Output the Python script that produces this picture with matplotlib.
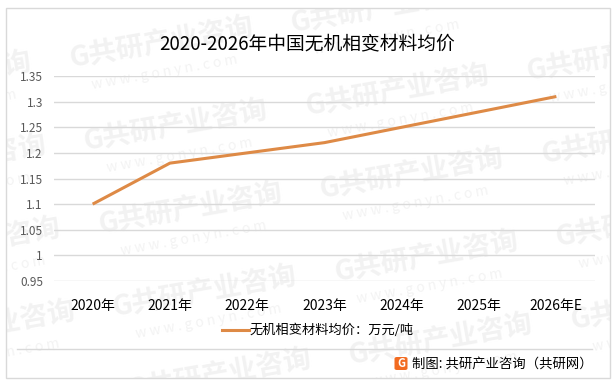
import matplotlib
matplotlib.use("Agg")
import matplotlib.pyplot as plt
from matplotlib.patches import Rectangle, FancyBboxPatch
from matplotlib.lines import Line2D

plt.rcParams['font.family'] = ['Noto Sans CJK SC', 'DejaVu Sans']

years = ['2020年', '2021年', '2022年', '2023年', '2024年', '2025年', '2026年E']
prices = [1.10, 1.18, 1.20, 1.22, 1.25, 1.28, 1.31]
yticks = [0.95, 1.0, 1.05, 1.1, 1.15, 1.2, 1.25, 1.3, 1.35]
ytick_labels = ['0.95', '1', '1.05', '1.1', '1.15', '1.2', '1.25', '1.3', '1.35']

title = '2020-2026年中国无机相变材料均价'
series_name = '无机相变材料均价：万元/吨'
source = '制图: 共研产业咨询（共研网）'
wm_text = 'G共研产业咨询'
wm_url = 'w w w . g o n y n . c o m'

W, H = 615, 383
LINE_COLOR = '#DE8A46'


def px(x, y):
    # pixel coords (from top-left) -> figure fraction
    return x / W, 1 - y / H


def watermarks(fig, clip):
    # tiled faint background watermark, roughly following the reference lattice
    for i in range(-1, 3):
        for j in range(-1, 5):
            cx = 161 + 236 * i + 14.5 * j
            cy = 42 + 48 * i + 83 * j
            t = fig.text(*px(cx, cy), wm_text, ha='center', va='center', rotation=10,
                         fontsize=20, fontweight='bold', color='#F2F2F2', zorder=-2,
                         rotation_mode='anchor')
            t.set_clip_path(clip)
            u = fig.text(*px(cx + 4, cy + 30), wm_url, ha='center', va='center', rotation=10,
                         fontsize=10, color='#F3F3F3', zorder=-2, rotation_mode='anchor')
            u.set_clip_path(clip)


def main():
    fig = plt.figure(figsize=(W / 100, H / 100), dpi=100)

    # outer frame
    frame = Rectangle(px(5.5, 377.5), (610 - 5.5) / W, (377.5 - 7.5) / H,
                      transform=fig.transFigure, fill=False, edgecolor='#D9D9D9', lw=1.0)
    fig.add_artist(frame)
    watermarks(fig, frame)

    # plot area placed in pixel terms
    left, right, top, bottom = 54, 595, 76, 281
    ax = fig.add_axes([left / W, 1 - bottom / H, (right - left) / W, (bottom - top) / H])
    ax.set_facecolor('none')

    x = list(range(len(years)))
    ax.plot(x, prices, color=LINE_COLOR, lw=2.2, solid_capstyle='butt')

    ax.set_xlim(-0.5, len(years) - 0.5)
    ax.set_ylim(0.95, 1.35)
    ax.set_yticks(yticks, ytick_labels)
    ax.set_xticks(x, years)

    for s in ax.spines.values():
        s.set_visible(False)
    ax.yaxis.grid(True, color='#D9D9D9', lw=1.0)
    ax.set_axisbelow(True)
    ax.tick_params(axis='both', length=0)
    ax.tick_params(axis='y', labelsize=8.5, labelcolor='#595959', pad=8)
    ax.tick_params(axis='x', labelsize=10, labelcolor='#000000', pad=13)

    # title
    fig.text(*px(307, 44), title, ha='center', va='center', fontsize=13.5, color='#000000')

    # legend
    fig.add_artist(Line2D([222 / W, 249 / W], [1 - 330 / H, 1 - 330 / H],
                          color=LINE_COLOR, lw=2.2))
    fig.text(*px(250, 330), series_name, ha='left', va='center', fontsize=9.5, color='#000000')

    # separator
    fig.add_artist(Line2D([17 / W, 592 / W], [1 - 348.5 / H, 1 - 348.5 / H], color='#D9D9D9', lw=1.0))

    # source with logo
    fig.add_artist(FancyBboxPatch(px(394.5, 370), 13 / W, 13 / H,
                                  boxstyle='round,pad=0,rounding_size=0.004',
                                  facecolor='#F26B21', edgecolor='none'))
    fig.text(*px(401, 363.5), 'G', ha='center', va='center', fontsize=8,
             color='white', fontweight='bold')
    fig.text(*px(412, 364), source, ha='left', va='center', fontsize=9.6, color='#000000')

    fig.savefig('out.png', dpi=100)


if __name__ == '__main__':
    main()
